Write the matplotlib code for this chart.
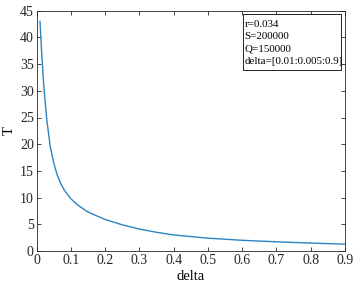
import matplotlib
matplotlib.use("Agg")
from matplotlib import pyplot as plt
from matplotlib.patches import Rectangle

# values
delta = [0.01, 0.015, 0.02, 0.025, 0.03, 0.04, 0.05, 0.06, 0.07, 0.08, 0.09,
         0.1, 0.12, 0.15, 0.2, 0.25, 0.3, 0.35, 0.4, 0.45, 0.5, 0.6, 0.7,
         0.8, 0.9]
T = [43.0, 37.0, 32.0, 28.0, 24.5, 19.5, 16.5, 14.3, 12.7, 11.5, 10.6,
     9.8, 8.6, 7.3, 5.9, 4.9, 4.1, 3.5, 3.0, 2.7, 2.4, 2.0, 1.72,
     1.48, 1.28]

xticks = [0, 0.1, 0.2, 0.3, 0.4, 0.5, 0.6, 0.7, 0.8, 0.9]
xticklabels = ["0", "0.1", "0.2", "0.3", "0.4", "0.5", "0.6", "0.7", "0.8", "0.9"]
yticks = [0, 5, 10, 15, 20, 25, 30, 35, 40, 45]

info = "r=0.034\nS=200000\nQ=150000\ndelta=[0.01:0.005:0.9]"

plt.rcParams["font.family"] = ["Liberation Serif", "DejaVu Serif"]

fig = plt.figure(figsize=(3.62, 2.82), dpi=100)
ax = fig.add_axes([0.101, 0.110, 0.852, 0.852])

ax.plot(delta, T, color="#2a85c2", linewidth=1.0)

ax.set_xlim(0, 0.9)
ax.set_ylim(0, 45)
ax.set_xticks(xticks)
ax.set_xticklabels(xticklabels)
ax.set_yticks(yticks)
ax.tick_params(direction="in", top=True, right=True, length=3, width=0.6,
               labelsize=10, colors="#262626", pad=2)
for s in ax.spines.values():
    s.set_linewidth(0.6)
    s.set_color("#262626")

ax.set_xlabel("delta", fontsize=10.5, labelpad=2)
ax.set_ylabel("T", fontsize=10.5, labelpad=3)

# annotation box (MATLAB style, extra room at the bottom)
ax.add_patch(Rectangle((0.669, 0.753), 0.318, 0.233, transform=ax.transAxes,
                       facecolor="white", edgecolor="black", linewidth=0.6,
                       zorder=5))
ax.text(0.675, 0.963, info, transform=ax.transAxes, fontsize=7.9,
        va="top", ha="left", linespacing=1.5, zorder=6)

fig.savefig("out.png", dpi=100)
